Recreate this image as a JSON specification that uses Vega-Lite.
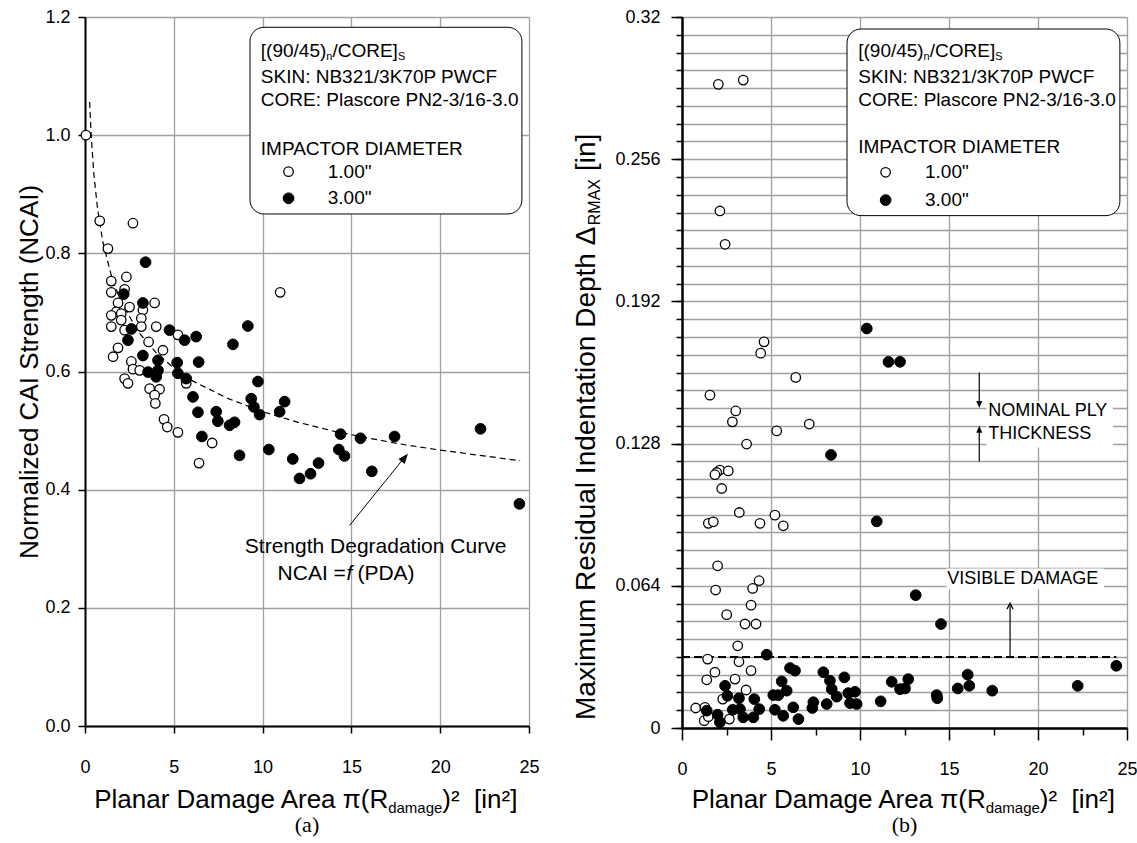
{
  "$schema": "https://vega.github.io/schema/vega-lite/v6.json",
  "padding": {"left": 16, "top": 8, "right": 0, "bottom": 0},
  "spacing": 32,
  "config": {
    "view": {"stroke": null},
    "axis": {"labelFont": "Liberation Sans", "labelFontSize": 18, "labelColor": "#000", "titleFont": "Liberation Sans", "titleFontWeight": "normal", "titleColor": "#000", "domainColor": "#000", "domainWidth": 2, "tickColor": "#000", "tickWidth": 1.5, "gridColor": "#a0a0a0", "gridWidth": 1.3},
    "text": {"font": "Liberation Sans", "fontSize": 18, "color": "#000"}
  },
  "datasets": {
    "ncai": [
      {"x": 0.05, "y": 1.0, "dia": 1}, {"x": 0.83, "y": 0.855, "dia": 1}, {"x": 2.7, "y": 0.851, "dia": 1}, {"x": 1.29, "y": 0.808, "dia": 1},
      {"x": 2.33, "y": 0.76, "dia": 1}, {"x": 1.48, "y": 0.753, "dia": 1}, {"x": 2.23, "y": 0.739, "dia": 1}, {"x": 1.48, "y": 0.734, "dia": 1},
      {"x": 10.99, "y": 0.734, "dia": 1}, {"x": 1.86, "y": 0.716, "dia": 1}, {"x": 3.92, "y": 0.716, "dia": 1}, {"x": 2.51, "y": 0.709, "dia": 1},
      {"x": 3.26, "y": 0.704, "dia": 1}, {"x": 1.76, "y": 0.701, "dia": 1}, {"x": 1.48, "y": 0.695, "dia": 1}, {"x": 2.04, "y": 0.698, "dia": 1},
      {"x": 2.04, "y": 0.687, "dia": 1}, {"x": 3.17, "y": 0.69, "dia": 1}, {"x": 1.48, "y": 0.676, "dia": 1}, {"x": 3.17, "y": 0.676, "dia": 1},
      {"x": 4.01, "y": 0.676, "dia": 1}, {"x": 2.23, "y": 0.67, "dia": 1}, {"x": 5.23, "y": 0.662, "dia": 1}, {"x": 3.58, "y": 0.65, "dia": 1},
      {"x": 1.86, "y": 0.64, "dia": 1}, {"x": 4.39, "y": 0.636, "dia": 1}, {"x": 1.58, "y": 0.625, "dia": 1}, {"x": 2.61, "y": 0.617, "dia": 1},
      {"x": 2.7, "y": 0.604, "dia": 1}, {"x": 3.08, "y": 0.602, "dia": 1}, {"x": 5.7, "y": 0.58, "dia": 1}, {"x": 2.23, "y": 0.588, "dia": 1},
      {"x": 2.42, "y": 0.58, "dia": 1}, {"x": 3.64, "y": 0.571, "dia": 1}, {"x": 4.2, "y": 0.57, "dia": 1}, {"x": 3.92, "y": 0.56, "dia": 1},
      {"x": 3.96, "y": 0.546, "dia": 1}, {"x": 4.45, "y": 0.519, "dia": 1}, {"x": 4.63, "y": 0.506, "dia": 1}, {"x": 5.23, "y": 0.497, "dia": 1},
      {"x": 7.16, "y": 0.479, "dia": 1}, {"x": 6.42, "y": 0.445, "dia": 1},
      {"x": 3.41, "y": 0.785, "dia": 3}, {"x": 2.18, "y": 0.731, "dia": 3}, {"x": 3.26, "y": 0.716, "dia": 3}, {"x": 2.61, "y": 0.672, "dia": 3},
      {"x": 4.76, "y": 0.67, "dia": 3}, {"x": 6.26, "y": 0.659, "dia": 3}, {"x": 5.61, "y": 0.653, "dia": 3}, {"x": 9.17, "y": 0.677, "dia": 3},
      {"x": 2.42, "y": 0.653, "dia": 3}, {"x": 8.33, "y": 0.646, "dia": 3}, {"x": 3.26, "y": 0.627, "dia": 3}, {"x": 4.11, "y": 0.619, "dia": 3},
      {"x": 5.19, "y": 0.615, "dia": 3}, {"x": 6.4, "y": 0.616, "dia": 3}, {"x": 3.55, "y": 0.599, "dia": 3}, {"x": 4.11, "y": 0.602, "dia": 3},
      {"x": 5.23, "y": 0.597, "dia": 3}, {"x": 4.01, "y": 0.591, "dia": 3}, {"x": 5.7, "y": 0.588, "dia": 3}, {"x": 9.74, "y": 0.583, "dia": 3},
      {"x": 6.08, "y": 0.557, "dia": 3}, {"x": 9.36, "y": 0.554, "dia": 3}, {"x": 9.51, "y": 0.54, "dia": 3}, {"x": 11.24, "y": 0.549, "dia": 3},
      {"x": 6.36, "y": 0.531, "dia": 3}, {"x": 7.39, "y": 0.532, "dia": 3}, {"x": 10.96, "y": 0.532, "dia": 3}, {"x": 9.83, "y": 0.527, "dia": 3},
      {"x": 7.48, "y": 0.516, "dia": 3}, {"x": 8.42, "y": 0.514, "dia": 3}, {"x": 8.14, "y": 0.509, "dia": 3}, {"x": 14.39, "y": 0.494, "dia": 3},
      {"x": 15.51, "y": 0.487, "dia": 3}, {"x": 6.58, "y": 0.49, "dia": 3}, {"x": 10.35, "y": 0.468, "dia": 3}, {"x": 14.29, "y": 0.468, "dia": 3},
      {"x": 14.61, "y": 0.457, "dia": 3}, {"x": 8.7, "y": 0.458, "dia": 3}, {"x": 11.7, "y": 0.452, "dia": 3}, {"x": 13.15, "y": 0.445, "dia": 3},
      {"x": 12.7, "y": 0.427, "dia": 3}, {"x": 12.08, "y": 0.419, "dia": 3}, {"x": 16.15, "y": 0.431, "dia": 3}, {"x": 17.43, "y": 0.49, "dia": 3},
      {"x": 22.27, "y": 0.503, "dia": 3}, {"x": 24.46, "y": 0.376, "dia": 3}
    ],
    "rmax": [
      {"x": 2.04, "y": 0.2897, "dia": 1}, {"x": 3.44, "y": 0.2916, "dia": 1}, {"x": 2.13, "y": 0.2327, "dia": 1}, {"x": 2.42, "y": 0.2177, "dia": 1},
      {"x": 4.61, "y": 0.1738, "dia": 1}, {"x": 4.42, "y": 0.1687, "dia": 1}, {"x": 6.39, "y": 0.1578, "dia": 1}, {"x": 1.57, "y": 0.1498, "dia": 1},
      {"x": 3.02, "y": 0.1427, "dia": 1}, {"x": 2.83, "y": 0.1378, "dia": 1}, {"x": 7.15, "y": 0.1368, "dia": 1}, {"x": 5.32, "y": 0.1337, "dia": 1},
      {"x": 3.63, "y": 0.1278, "dia": 1}, {"x": 2.13, "y": 0.1161, "dia": 1}, {"x": 1.95, "y": 0.115, "dia": 1}, {"x": 1.85, "y": 0.114, "dia": 1},
      {"x": 2.6, "y": 0.1157, "dia": 1}, {"x": 2.23, "y": 0.1078, "dia": 1}, {"x": 3.22, "y": 0.097, "dia": 1}, {"x": 5.22, "y": 0.0958, "dia": 1},
      {"x": 1.48, "y": 0.0921, "dia": 1}, {"x": 1.76, "y": 0.0928, "dia": 1}, {"x": 4.38, "y": 0.0921, "dia": 1}, {"x": 5.69, "y": 0.091, "dia": 1},
      {"x": 2.0, "y": 0.073, "dia": 1}, {"x": 1.89, "y": 0.0621, "dia": 1}, {"x": 4.33, "y": 0.0663, "dia": 1}, {"x": 3.97, "y": 0.0628, "dia": 1},
      {"x": 3.88, "y": 0.0553, "dia": 1}, {"x": 2.51, "y": 0.051, "dia": 1}, {"x": 3.54, "y": 0.0468, "dia": 1}, {"x": 4.16, "y": 0.0468, "dia": 1},
      {"x": 3.13, "y": 0.037, "dia": 1}, {"x": 1.44, "y": 0.031, "dia": 1}, {"x": 3.2, "y": 0.0298, "dia": 1}, {"x": 3.88, "y": 0.0258, "dia": 1},
      {"x": 1.85, "y": 0.0251, "dia": 1}, {"x": 1.39, "y": 0.0217, "dia": 1}, {"x": 2.98, "y": 0.022, "dia": 1}, {"x": 3.6, "y": 0.0171, "dia": 1},
      {"x": 2.29, "y": 0.013, "dia": 1}, {"x": 0.77, "y": 0.009, "dia": 1}, {"x": 1.29, "y": 0.0093, "dia": 1}, {"x": 1.25, "y": 0.0033, "dia": 1},
      {"x": 2.66, "y": 0.004, "dia": 1}, {"x": 1.48, "y": 0.0051, "dia": 1},
      {"x": 10.38, "y": 0.1798, "dia": 3}, {"x": 11.6, "y": 0.1648, "dia": 3}, {"x": 12.25, "y": 0.1648, "dia": 3}, {"x": 8.37, "y": 0.1229, "dia": 3},
      {"x": 10.94, "y": 0.093, "dia": 3}, {"x": 13.13, "y": 0.0598, "dia": 3}, {"x": 14.55, "y": 0.0468, "dia": 3}, {"x": 4.76, "y": 0.033, "dia": 3},
      {"x": 24.4, "y": 0.028, "dia": 3}, {"x": 6.07, "y": 0.027, "dia": 3}, {"x": 6.35, "y": 0.0258, "dia": 3}, {"x": 7.94, "y": 0.0251, "dia": 3},
      {"x": 5.6, "y": 0.021, "dia": 3}, {"x": 8.31, "y": 0.0213, "dia": 3}, {"x": 9.12, "y": 0.0228, "dia": 3}, {"x": 2.42, "y": 0.019, "dia": 3},
      {"x": 8.41, "y": 0.0175, "dia": 3}, {"x": 5.88, "y": 0.0168, "dia": 3}, {"x": 5.13, "y": 0.0148, "dia": 3}, {"x": 5.41, "y": 0.0148, "dia": 3},
      {"x": 8.69, "y": 0.0141, "dia": 3}, {"x": 9.34, "y": 0.0157, "dia": 3}, {"x": 9.72, "y": 0.0163, "dia": 3}, {"x": 2.55, "y": 0.0145, "dia": 3},
      {"x": 3.2, "y": 0.0134, "dia": 3}, {"x": 4.06, "y": 0.013, "dia": 3}, {"x": 7.38, "y": 0.0116, "dia": 3}, {"x": 8.13, "y": 0.0108, "dia": 3},
      {"x": 9.44, "y": 0.0112, "dia": 3}, {"x": 9.81, "y": 0.0108, "dia": 3}, {"x": 11.16, "y": 0.012, "dia": 3}, {"x": 2.85, "y": 0.0082, "dia": 3},
      {"x": 3.26, "y": 0.0085, "dia": 3}, {"x": 4.34, "y": 0.0085, "dia": 3}, {"x": 5.22, "y": 0.0082, "dia": 3}, {"x": 6.25, "y": 0.0093, "dia": 3},
      {"x": 7.32, "y": 0.009, "dia": 3}, {"x": 1.39, "y": 0.0078, "dia": 3}, {"x": 2.0, "y": 0.006, "dia": 3}, {"x": 3.44, "y": 0.0048, "dia": 3},
      {"x": 4.01, "y": 0.0048, "dia": 3}, {"x": 5.69, "y": 0.0055, "dia": 3}, {"x": 6.54, "y": 0.004, "dia": 3}, {"x": 2.13, "y": 0.0026, "dia": 3},
      {"x": 11.78, "y": 0.0208, "dia": 3}, {"x": 12.71, "y": 0.022, "dia": 3}, {"x": 12.25, "y": 0.0175, "dia": 3}, {"x": 12.53, "y": 0.0178, "dia": 3},
      {"x": 14.31, "y": 0.0148, "dia": 3}, {"x": 14.34, "y": 0.0134, "dia": 3}, {"x": 15.49, "y": 0.0178, "dia": 3}, {"x": 16.05, "y": 0.024, "dia": 3},
      {"x": 16.14, "y": 0.019, "dia": 3}, {"x": 17.43, "y": 0.0168, "dia": 3}, {"x": 22.23, "y": 0.019, "dia": 3}
    ],
    "curve": [
      {"x": 0.26, "y": 1.056}, {"x": 0.35, "y": 0.999}, {"x": 0.5, "y": 0.934}, {"x": 0.7, "y": 0.877}, {"x": 1, "y": 0.82},
      {"x": 1.5, "y": 0.76}, {"x": 2, "y": 0.72}, {"x": 3, "y": 0.667}, {"x": 4, "y": 0.632}, {"x": 5, "y": 0.606},
      {"x": 6, "y": 0.585}, {"x": 8, "y": 0.555}, {"x": 10, "y": 0.532}, {"x": 12, "y": 0.514}, {"x": 14, "y": 0.499},
      {"x": 16, "y": 0.487}, {"x": 18, "y": 0.476}, {"x": 20, "y": 0.467}, {"x": 22, "y": 0.459}, {"x": 24.5, "y": 0.449}
    ]
  },
  "hconcat": [
    {
      "width": 444,
      "height": 709,
      "layer": [
        {
          "data": {"values": [{}]},
          "mark": {"type": "rect", "fill": "white", "stroke": "black", "strokeWidth": 1, "cornerRadius": 14},
          "encoding": {
            "x": {"datum": 9.29, "type": "quantitative"}, "x2": {"datum": 24.6},
            "y": {"datum": 1.1826, "type": "quantitative"}, "y2": {"datum": 0.8666}
          }
        },
        {
          "data": {"name": "curve"},
          "mark": {"type": "line", "color": "black", "strokeWidth": 1.2, "strokeDash": [6, 4]},
          "encoding": {"x": {"field": "x", "type": "quantitative"}, "y": {"field": "y", "type": "quantitative"}}
        },
        {
          "data": {"name": "ncai"},
          "transform": [{"filter": "datum.dia == 1"}],
          "mark": {"type": "point", "shape": "circle", "filled": true, "fill": "white", "stroke": "black", "strokeWidth": 1.3, "size": 90, "opacity": 1},
          "encoding": {
            "x": {"field": "x", "type": "quantitative", "scale": {"domain": [0, 25], "nice": false, "zero": false},
                  "axis": {"title": null, "values": [0, 5, 10, 15, 20, 25], "format": "d", "grid": true, "tickSize": 7, "labelPadding": 25, "labelFlush": false, "labelOverlap": false}},
            "y": {"field": "y", "type": "quantitative", "scale": {"domain": [0, 1.2], "nice": false, "zero": false},
                  "axis": {"title": "Normalized CAI Strength (NCAI)", "titleFontSize": 26, "titlePadding": 2, "values": [0, 0.2, 0.4, 0.6, 0.8, 1, 1.2], "format": ".1f", "grid": true, "tickSize": 7, "labelPadding": 8, "labelOverlap": false}}
          }
        },
        {
          "data": {"name": "ncai"},
          "transform": [{"filter": "datum.dia == 3"}],
          "mark": {"type": "point", "shape": "circle", "filled": true, "fill": "black", "stroke": "black", "strokeWidth": 1, "size": 115, "opacity": 1},
          "encoding": {"x": {"field": "x", "type": "quantitative"}, "y": {"field": "y", "type": "quantitative"}}
        },
        {
          "data": {"values": [{"x": 11.46, "y": 0.9382}]},
          "mark": {"type": "point", "shape": "circle", "filled": true, "fill": "white", "stroke": "black", "strokeWidth": 1.3, "size": 90, "opacity": 1},
          "encoding": {"x": {"field": "x", "type": "quantitative"}, "y": {"field": "y", "type": "quantitative"}}
        },
        {
          "data": {"values": [{"x": 11.46, "y": 0.8932}]},
          "mark": {"type": "point", "shape": "circle", "filled": true, "fill": "black", "stroke": "black", "strokeWidth": 1, "size": 115, "opacity": 1},
          "encoding": {"x": {"field": "x", "type": "quantitative"}, "y": {"field": "y", "type": "quantitative"}}
        },
        {
          "data": {"values": [
            {"x": 9.9, "y": 1.143, "t": "[(90/45)"}, {"x": 13.93, "y": 1.143, "t": "/CORE]"},
            {"x": 9.9, "y": 1.098, "t": "SKIN: NB321/3K70P PWCF"}, {"x": 9.9, "y": 1.06, "t": "CORE: Plascore PN2-3/16-3.0"},
            {"x": 9.9, "y": 0.9766, "t": "IMPACTOR DIAMETER"}, {"x": 13.67, "y": 0.9382, "t": "1.00\""}, {"x": 13.67, "y": 0.8932, "t": "3.00\""}
          ]},
          "mark": {"type": "text", "align": "left", "baseline": "middle", "fontSize": 19},
          "encoding": {"x": {"field": "x", "type": "quantitative"}, "y": {"field": "y", "type": "quantitative"}, "text": {"field": "t"}}
        },
        {
          "data": {"values": [{"x": 13.59, "y": 1.143, "t": "n"}, {"x": 17.62, "y": 1.143, "t": "S"}]},
          "mark": {"type": "text", "align": "left", "baseline": "middle", "fontSize": 11, "dy": 6},
          "encoding": {"x": {"field": "x", "type": "quantitative"}, "y": {"field": "y", "type": "quantitative"}, "text": {"field": "t"}}
        },
        {
          "data": {"values": [{"x": 9.0, "y": 0.3029, "t": "Strength Degradation Curve"}, {"x": 15.34, "y": 0.2576, "t": "(PDA)"}]},
          "mark": {"type": "text", "align": "left", "baseline": "middle", "fontSize": 21},
          "encoding": {"x": {"field": "x", "type": "quantitative"}, "y": {"field": "y", "type": "quantitative"}, "text": {"field": "t"}}
        },
        {
          "data": {"values": [{"x": 14.69, "y": 0.2576, "t": "NCAI ="}]},
          "mark": {"type": "text", "align": "right", "baseline": "middle", "fontSize": 21},
          "encoding": {"x": {"field": "x", "type": "quantitative"}, "y": {"field": "y", "type": "quantitative"}, "text": {"field": "t"}}
        },
        {
          "data": {"values": [{"x": 14.72, "y": 0.2576, "t": "f"}]},
          "mark": {"type": "text", "align": "left", "baseline": "middle", "fontSize": 21, "fontStyle": "italic"},
          "encoding": {"x": {"field": "x", "type": "quantitative"}, "y": {"field": "y", "type": "quantitative"}, "text": {"field": "t"}}
        },
        {
          "data": {"values": [{"x": 14.9, "y": 0.3395, "x2": 18.0, "y2": 0.455}]},
          "mark": {"type": "rule", "color": "black", "strokeWidth": 1},
          "encoding": {"x": {"field": "x", "type": "quantitative"}, "y": {"field": "y", "type": "quantitative"}, "x2": {"field": "x2"}, "y2": {"field": "y2"}}
        },
        {
          "data": {"values": [{"x": 18.18, "y": 0.461}]},
          "mark": {"type": "point", "shape": "M0,0L-0.4,1L0.4,1Z", "filled": true, "fill": "black", "stroke": null, "size": 400, "angle": 39, "opacity": 1},
          "encoding": {"x": {"field": "x", "type": "quantitative"}, "y": {"field": "y", "type": "quantitative"}}
        },
        {
          "data": {"values": [{"x": 17.07, "y": -0.1253, "t": "Planar Damage Area π(R"}]},
          "mark": {"type": "text", "align": "right", "baseline": "middle", "fontSize": 26},
          "encoding": {"x": {"field": "x", "type": "quantitative"}, "y": {"field": "y", "type": "quantitative"}, "text": {"field": "t"}}
        },
        {
          "data": {"values": [{"x": 17.07, "y": -0.1253, "t": "damage"}]},
          "mark": {"type": "text", "align": "left", "baseline": "middle", "fontSize": 15, "dy": 8},
          "encoding": {"x": {"field": "x", "type": "quantitative"}, "y": {"field": "y", "type": "quantitative"}, "text": {"field": "t"}}
        },
        {
          "data": {"values": [{"x": 20.12, "y": -0.1253, "t": ")²\u00a0 [in²]"}]},
          "mark": {"type": "text", "align": "left", "baseline": "middle", "fontSize": 26},
          "encoding": {"x": {"field": "x", "type": "quantitative"}, "y": {"field": "y", "type": "quantitative"}, "text": {"field": "t"}}
        },
        {
          "data": {"values": [{"x": 12.5, "y": -0.1676, "t": "(a)"}]},
          "mark": {"type": "text", "align": "center", "baseline": "middle", "fontSize": 22, "font": "Liberation Serif"},
          "encoding": {"x": {"field": "x", "type": "quantitative"}, "y": {"field": "y", "type": "quantitative"}, "text": {"field": "t"}}
        }
      ]
    },
    {
      "width": 445,
      "height": 711,
      "resolve": {"axis": {"x": "independent", "y": "independent"}},
      "layer": [
        {
          "data": {"values": [{}]},
          "mark": {"type": "rect", "fill": "white", "stroke": "black", "strokeWidth": 1, "cornerRadius": 14},
          "encoding": {
            "x": {"datum": 9.27, "type": "quantitative", "axis": null}, "x2": {"datum": 24.6},
            "y": {"datum": 0.3146, "type": "quantitative", "axis": null}, "y2": {"datum": 0.2306}
          }
        },
        {
          "data": {"values": [{"x": 14.85, "x2": 23.7, "y": 0.0625, "y2": 0.0718}, {"x": 17.1, "x2": 24.2, "y": 0.1262, "y2": 0.1472}]},
          "mark": {"type": "rect", "fill": "white", "stroke": null},
          "encoding": {"x": {"field": "x", "type": "quantitative", "axis": null}, "x2": {"field": "x2"}, "y": {"field": "y", "type": "quantitative", "axis": null}, "y2": {"field": "y2"}}
        },
        {
          "data": {"values": [{}]},
          "mark": {"type": "rule", "color": "black", "strokeWidth": 2, "strokeDash": [8, 4]},
          "encoding": {"x": {"datum": 0, "type": "quantitative", "axis": null}, "x2": {"datum": 24.4}, "y": {"datum": 0.032, "type": "quantitative", "axis": null}}
        },
        {
          "data": {"name": "rmax"},
          "transform": [{"filter": "datum.dia == 1"}],
          "mark": {"type": "point", "shape": "circle", "filled": true, "fill": "white", "stroke": "black", "strokeWidth": 1.3, "size": 90, "opacity": 1},
          "encoding": {
            "x": {"field": "x", "type": "quantitative", "scale": {"domain": [0, 25], "nice": false, "zero": false},
                  "axis": {"title": null, "orient": "bottom", "values": [2.5, 7.5, 12.5, 17.5, 22.5], "labels": false, "grid": false, "tickSize": 7, "domain": true}},
            "y": {"field": "y", "type": "quantitative", "scale": {"domain": [0, 0.32], "nice": false, "zero": false},
                  "axis": {"title": null, "orient": "left", "labels": false, "grid": true, "tickSize": 6, "domain": true,
                           "values": [0, 0.008, 0.016, 0.024, 0.032, 0.04, 0.048, 0.056, 0.064, 0.072, 0.08, 0.088, 0.096, 0.104, 0.112, 0.12, 0.128, 0.136, 0.144, 0.152, 0.16, 0.168, 0.176, 0.184, 0.192, 0.2, 0.208, 0.216, 0.224, 0.232, 0.24, 0.248, 0.256, 0.264, 0.272, 0.28, 0.288, 0.296, 0.304, 0.312, 0.32]}}
          }
        },
        {
          "data": {"name": "rmax"},
          "transform": [{"filter": "datum.dia == 3"}],
          "mark": {"type": "point", "shape": "circle", "filled": true, "fill": "black", "stroke": "black", "strokeWidth": 1, "size": 115, "opacity": 1},
          "encoding": {
            "x": {"field": "x", "type": "quantitative",
                  "axis": {"title": null, "orient": "bottom", "values": [0, 5, 10, 15, 20, 25], "format": "d", "grid": true, "tickSize": 12, "labelPadding": 20, "labelFlush": false, "labelOverlap": false}},
            "y": {"field": "y", "type": "quantitative",
                  "axis": {"title": null, "orient": "left", "values": [0, 0.064, 0.128, 0.192, 0.256, 0.32], "labelExpr": "format(datum.value, '~g')", "grid": false, "tickSize": 11, "labelPadding": 11, "labelOverlap": false}}
          }
        },
        {
          "data": {"values": [{"x": 11.44, "y": 0.2501}]},
          "mark": {"type": "point", "shape": "circle", "filled": true, "fill": "white", "stroke": "black", "strokeWidth": 1.3, "size": 90, "opacity": 1},
          "encoding": {"x": {"field": "x", "type": "quantitative", "axis": null}, "y": {"field": "y", "type": "quantitative", "axis": null}}
        },
        {
          "data": {"values": [{"x": 11.44, "y": 0.2376}]},
          "mark": {"type": "point", "shape": "circle", "filled": true, "fill": "black", "stroke": "black", "strokeWidth": 1, "size": 115, "opacity": 1},
          "encoding": {"x": {"field": "x", "type": "quantitative", "axis": null}, "y": {"field": "y", "type": "quantitative", "axis": null}}
        },
        {
          "data": {"values": [
            {"x": 9.9, "y": 0.3048, "t": "[(90/45)"}, {"x": 13.92, "y": 0.3048, "t": "/CORE]"},
            {"x": 9.9, "y": 0.2929, "t": "SKIN: NB321/3K70P PWCF"}, {"x": 9.9, "y": 0.2828, "t": "CORE: Plascore PN2-3/16-3.0"},
            {"x": 9.9, "y": 0.2614, "t": "IMPACTOR DIAMETER"}, {"x": 13.65, "y": 0.2501, "t": "1.00\""}, {"x": 13.65, "y": 0.2376, "t": "3.00\""}
          ]},
          "mark": {"type": "text", "align": "left", "baseline": "middle", "fontSize": 19},
          "encoding": {"x": {"field": "x", "type": "quantitative", "axis": null}, "y": {"field": "y", "type": "quantitative", "axis": null}, "text": {"field": "t"}}
        },
        {
          "data": {"values": [
            {"x": 17.21, "y": 0.1425, "t": "NOMINAL PLY"}, {"x": 17.21, "y": 0.1323, "t": "THICKNESS"},
            {"x": 14.9, "y": 0.067, "t": "VISIBLE DAMAGE"}
          ]},
          "mark": {"type": "text", "align": "left", "baseline": "middle", "fontSize": 18},
          "encoding": {"x": {"field": "x", "type": "quantitative", "axis": null}, "y": {"field": "y", "type": "quantitative", "axis": null}, "text": {"field": "t"}}
        },
        {
          "data": {"values": [{"x": 13.57, "y": 0.3048, "t": "n"}, {"x": 17.6, "y": 0.3048, "t": "S"}]},
          "mark": {"type": "text", "align": "left", "baseline": "middle", "fontSize": 11, "dy": 6},
          "encoding": {"x": {"field": "x", "type": "quantitative", "axis": null}, "y": {"field": "y", "type": "quantitative", "axis": null}, "text": {"field": "t"}}
        },
        {
          "data": {"values": [{"x": 18.43, "y": 0.032, "y2": 0.0558}, {"x": 16.7, "y": 0.16, "y2": 0.146}, {"x": 16.7, "y": 0.12, "y2": 0.134}]},
          "mark": {"type": "rule", "color": "black", "strokeWidth": 1.2},
          "encoding": {"x": {"field": "x", "type": "quantitative", "axis": null}, "y": {"field": "y", "type": "quantitative", "axis": null}, "y2": {"field": "y2"}}
        },
        {
          "data": {"values": [{"x": 18.43, "y": 0.0562}]},
          "mark": {"type": "point", "shape": "M-0.5,1L0,0L0.5,1", "filled": false, "stroke": "black", "strokeWidth": 1.2, "size": 144, "opacity": 1},
          "encoding": {"x": {"field": "x", "type": "quantitative", "axis": null}, "y": {"field": "y", "type": "quantitative", "axis": null}}
        },
        {
          "data": {"values": [{"x": 16.7, "y": 0.144}]},
          "mark": {"type": "point", "shape": "M0,0L-0.43,-1L0.43,-1Z", "filled": true, "fill": "black", "stroke": null, "size": 196, "opacity": 1},
          "encoding": {"x": {"field": "x", "type": "quantitative", "axis": null}, "y": {"field": "y", "type": "quantitative", "axis": null}}
        },
        {
          "data": {"values": [{"x": 16.7, "y": 0.136}]},
          "mark": {"type": "point", "shape": "M0,0L-0.43,1L0.43,1Z", "filled": true, "fill": "black", "stroke": null, "size": 196, "opacity": 1},
          "encoding": {"x": {"field": "x", "type": "quantitative", "axis": null}, "y": {"field": "y", "type": "quantitative", "axis": null}}
        },
        {
          "data": {"values": [{"x": -5.34, "y": 0.0036, "t": "Maximum Residual Indentation Depth Δ"}, {"x": -5.34, "y": 0.2507, "t": "[in]"}]},
          "mark": {"type": "text", "align": "left", "baseline": "middle", "fontSize": 28, "angle": 270},
          "encoding": {"x": {"field": "x", "type": "quantitative", "axis": null}, "y": {"field": "y", "type": "quantitative", "axis": null}, "text": {"field": "t"}}
        },
        {
          "data": {"values": [{"x": -5.34, "y": 0.2263, "t": "RMAX"}]},
          "mark": {"type": "text", "align": "left", "baseline": "middle", "fontSize": 16, "angle": 270, "dy": 8},
          "encoding": {"x": {"field": "x", "type": "quantitative", "axis": null}, "y": {"field": "y", "type": "quantitative", "axis": null}, "text": {"field": "t"}}
        },
        {
          "data": {"values": [{"x": 17.06, "y": -0.0324, "t": "Planar Damage Area π(R"}]},
          "mark": {"type": "text", "align": "right", "baseline": "middle", "fontSize": 26},
          "encoding": {"x": {"field": "x", "type": "quantitative", "axis": null}, "y": {"field": "y", "type": "quantitative", "axis": null}, "text": {"field": "t"}}
        },
        {
          "data": {"values": [{"x": 17.06, "y": -0.0324, "t": "damage"}]},
          "mark": {"type": "text", "align": "left", "baseline": "middle", "fontSize": 15, "dy": 8},
          "encoding": {"x": {"field": "x", "type": "quantitative", "axis": null}, "y": {"field": "y", "type": "quantitative", "axis": null}, "text": {"field": "t"}}
        },
        {
          "data": {"values": [{"x": 20.1, "y": -0.0324, "t": ")²\u00a0 [in²]"}]},
          "mark": {"type": "text", "align": "left", "baseline": "middle", "fontSize": 26},
          "encoding": {"x": {"field": "x", "type": "quantitative", "axis": null}, "y": {"field": "y", "type": "quantitative", "axis": null}, "text": {"field": "t"}}
        },
        {
          "data": {"values": [{"x": 12.5, "y": -0.0437, "t": "(b)"}]},
          "mark": {"type": "text", "align": "center", "baseline": "middle", "fontSize": 22, "font": "Liberation Serif"},
          "encoding": {"x": {"field": "x", "type": "quantitative", "axis": null}, "y": {"field": "y", "type": "quantitative", "axis": null}, "text": {"field": "t"}}
        }
      ]
    }
  ]
}
